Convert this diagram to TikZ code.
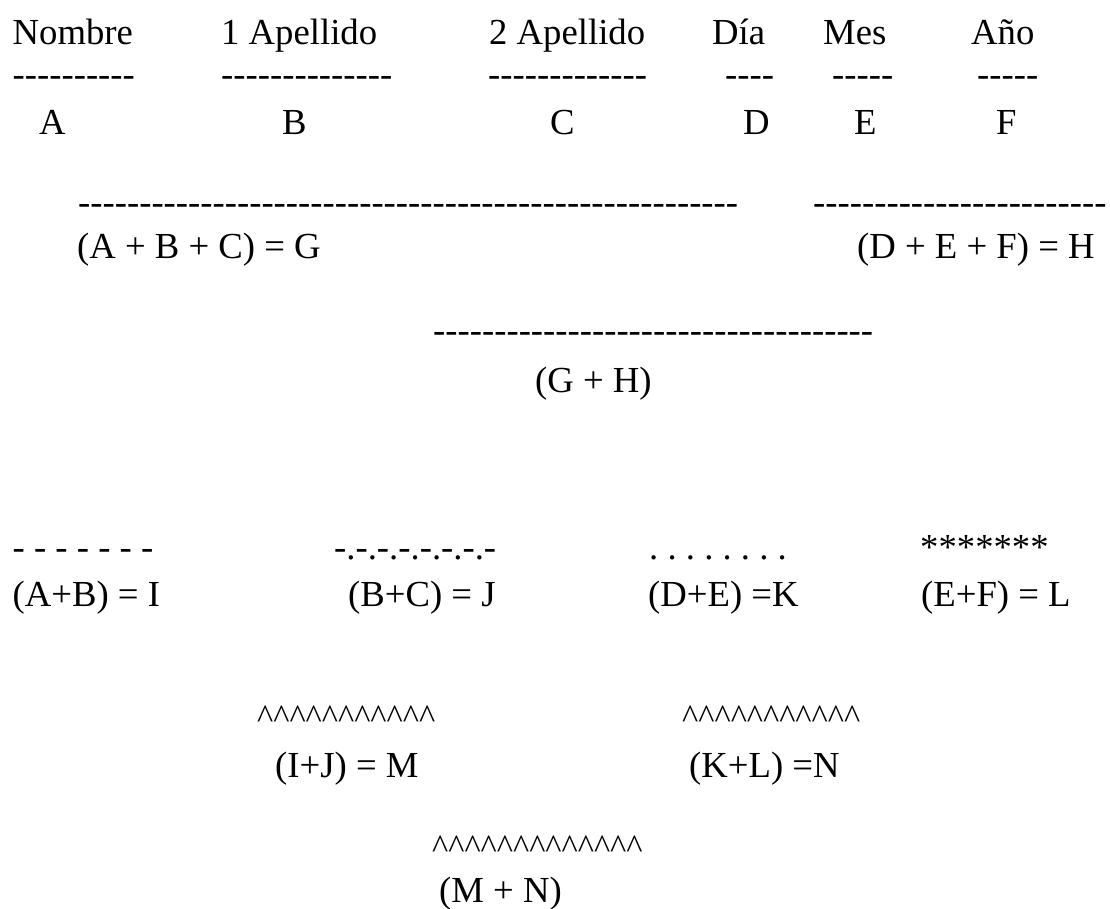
\documentclass[tikz,border=0pt]{standalone}
\usepackage{fontspec}
\setmainfont{Liberation Serif}[Ligatures=TeXOff]
\ExplSyntaxOn
\cs_new:Npn \dashrun #1 { \prg_replicate:nn {#1} {-} }
\cs_new:Npn \caretrun #1 { \prg_replicate:nn {#1} {\textasciicircum} }
\ExplSyntaxOff
\frenchspacing
\begin{document}
\begin{tikzpicture}[x=1pt,y=-1pt,
  txt/.style={anchor=base west, inner sep=0pt, font=\fontsize{36.7}{44}\selectfont\frenchspacing},
  crt/.style={txt, font=\fontsize{34.5}{40}\selectfont}]
\useasboundingbox[fill=white] (0,0) rectangle (1110,908);
% row 1 headers
\node[txt] (nombre) at (12.5,44) {Nombre};
\node[txt] (ap1) at (221,44) {1 Apellido};
\node[txt] (ap2) at (489,44) {2 Apellido};
\node[txt] (dia) at (712,44) {Día};
\node[txt] (mes) at (823,44) {Mes};
\node[txt] (anio) at (971,44) {Año};
% row 2 dashes
\node[txt] (dA) at (12.5,86.5) {\dashrun{10}};
\node[txt] (dB) at (221,86.5) {\dashrun{14}};
\node[txt] (dC) at (488,86.5) {\dashrun{13}};
\node[txt] (dD) at (725,86.5) {\dashrun{4}};
\node[txt] (dE) at (832,86.5) {\dashrun{5}};
\node[txt] (dF) at (977,86.5) {\dashrun{5}};
% row 3 letters
\node[txt] (A) at (39,134) {A};
\node[txt] (B) at (282,134) {B};
\node[txt] (C) at (550,134) {C};
\node[txt] (D) at (743,134) {D};
\node[txt] (E) at (854,134) {E};
\node[txt] (F) at (996,134) {F};
% row 4/5
\node[txt] (lG) at (78,214.5) {\dashrun{54}};
\node[txt] (lH) at (813,214.5) {\dashrun{24}};
\node[txt] (G) at (77,258) {(A + B + C) = G};
\node[txt] (H) at (857,258) {(D + E + F) = H};
% row 6/7
\node[txt] (lGH) at (433,342.5) {\dashrun{36}};
\node[txt] (GH) at (535,392) {(G + H)};
% row 8/9
\node[txt] (lI) at (12.5,559) {- - - - - - -};
\node[txt] (lJ) at (334,559) {-.-.-.-.-.-.-.-};
\node[txt] (lK) at (649,559) {. . . . . . . .};
\node[txt] (lL) at (920,559) {*******};
\node[txt] (I) at (12.5,606) {(A+B) = I};
\node[txt] (J) at (348,606) {(B+C) = J};
\node[txt] (K) at (648,606) {(D+E) =K};
\node[txt] (L) at (921,606) {(E+F) = L};
% row 10/11
\node[crt] (lM) at (257,728) {\caretrun{11}};
\node[crt] (lN) at (682,728) {\caretrun{11}};
\node[txt] (M) at (275,777) {(I+J) = M};
\node[txt] (N) at (689,777) {(K+L) =N};
% row 12/13
\node[crt] (lMN) at (432,858) {\caretrun{13}};
\node[txt] (MN) at (439,902) {(M + N)};
\end{tikzpicture}
\end{document}
